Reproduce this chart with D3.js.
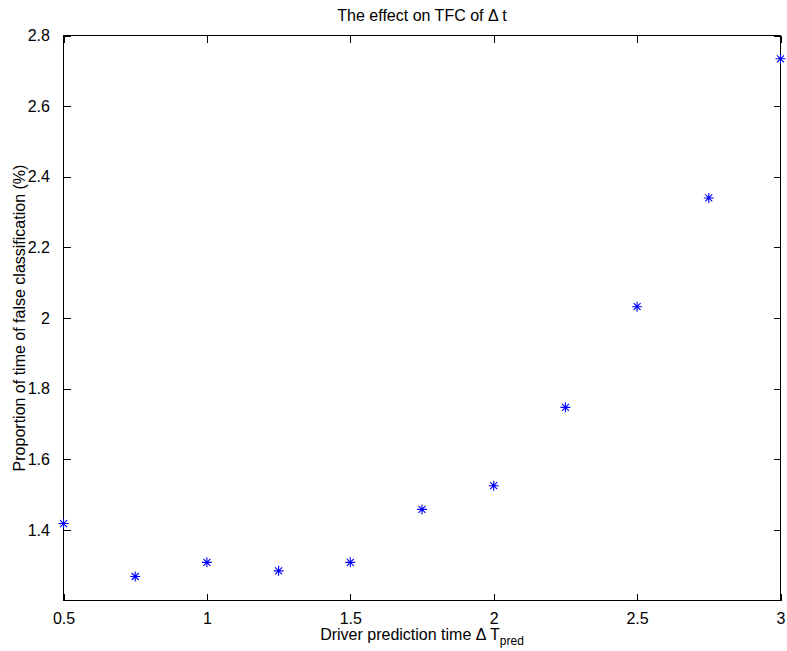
<!DOCTYPE html>
<html><head><meta charset="utf-8">
<script src="https://cdn.jsdelivr.net/npm/d3@7"></script>
<style>body{margin:0;background:#fff;} svg{display:block;} text{font-family:"Liberation Sans",Arial,sans-serif;fill:#000;}</style>
</head><body>
<svg id="chart" width="787" height="651"></svg>
<script>
const xValues = [0.5, 0.75, 1, 1.25, 1.5, 1.75, 2, 2.25, 2.5, 2.75, 3];
const yValues = [1.418, 1.268, 1.308, 1.284, 1.308, 1.458, 1.525, 1.747, 2.032, 2.340, 2.734];
const xTicks = [0.5, 1, 1.5, 2, 2.5, 3];
const yTicks = [1.4, 1.6, 1.8, 2, 2.2, 2.4, 2.6, 2.8];
const titleText = "The effect on TFC of \u0394 t";
const xLabelText = "Driver prediction time \u0394 T";
const xLabelSub = "pred";
const yLabelText = "Proportion of time of false classification (%)";

const svg = d3.select("#chart");
const L = 63.5, R = 780.5, T = 35.5, B = 600.5;
const x = d3.scaleLinear().domain([0.5, 3]).range([L, R]);
const y = d3.scaleLinear().domain([1.2, 2.8]).range([B, T]);
const fs = 16, tl = 7;

// frame
svg.append("rect").attr("x", L).attr("y", T).attr("width", R - L).attr("height", B - T)
  .attr("fill", "none").attr("stroke", "#000").attr("stroke-width", 1);

const fmt = d => String(d);
const xb = svg.append("g").attr("transform", `translate(0,${B})`)
  .call(d3.axisBottom(x).tickValues(xTicks).tickFormat(fmt).tickSizeInner(-tl).tickSizeOuter(0).tickPadding(12));
const xt = svg.append("g").attr("transform", `translate(0,${T})`)
  .call(d3.axisTop(x).tickValues(xTicks).tickFormat("").tickSizeInner(-tl).tickSizeOuter(0));
const yl = svg.append("g").attr("transform", `translate(${L},0)`)
  .call(d3.axisLeft(y).tickValues(yTicks).tickFormat(fmt).tickSizeInner(-tl).tickSizeOuter(0).tickPadding(12));
const yr = svg.append("g").attr("transform", `translate(${R},0)`)
  .call(d3.axisRight(y).tickValues(yTicks).tickFormat("").tickSizeInner(-tl).tickSizeOuter(0));
[xb, xt, yl, yr].forEach(g => {
  g.select(".domain").remove();
  g.selectAll("line").attr("stroke", "#000").attr("shape-rendering", "crispEdges");
  g.selectAll("text").attr("font-size", fs).attr("font-family", "Liberation Sans, Arial, sans-serif").attr("fill", "#000");
});
yl.selectAll("text").attr("dx", "-0.1em");

// markers (asterisk)
const s = 5;
const mk = svg.append("g").attr("stroke", "#0000ff").attr("stroke-width", 1.1).attr("fill", "none");
xValues.forEach((xv, i) => {
  const cx = x(xv), cy = y(yValues[i]);
  const d = `M${cx - s},${cy}L${cx + s},${cy}M${cx},${cy - s}L${cx},${cy + s}` +
            `M${cx - s * 0.7},${cy - s * 0.7}L${cx + s * 0.7},${cy + s * 0.7}M${cx - s * 0.7},${cy + s * 0.7}L${cx + s * 0.7},${cy - s * 0.7}`;
  mk.append("path").attr("d", d);
});

svg.append("text").attr("x", (L + R) / 2).attr("y", 21).attr("text-anchor", "middle")
  .attr("font-size", fs).text(titleText);
const xl = svg.append("text").attr("x", (L + R) / 2).attr("y", 640).attr("text-anchor", "middle").attr("font-size", fs);
xl.append("tspan").text(xLabelText);
xl.append("tspan").attr("font-size", fs * 0.75).attr("dy", 5).text(xLabelSub);
svg.append("text").attr("transform", `translate(25,${(T + B) / 2}) rotate(-90)`)
  .attr("text-anchor", "middle").attr("font-size", fs).text(yLabelText);
</script>
</body></html>
